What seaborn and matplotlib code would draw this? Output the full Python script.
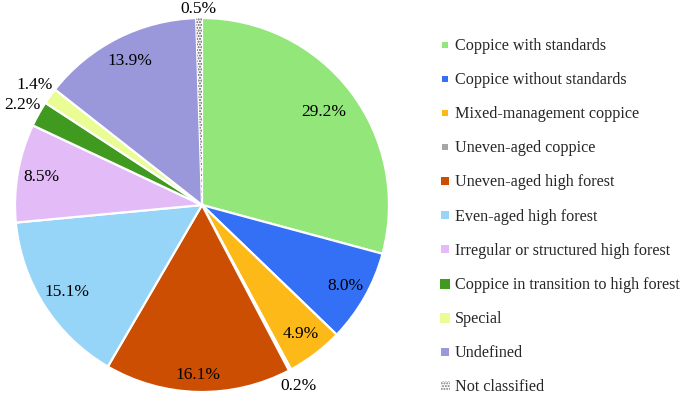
import matplotlib
matplotlib.use("Agg")
import matplotlib.pyplot as plt
from matplotlib.lines import Line2D
from matplotlib.patches import Patch
import seaborn as sns
import numpy as np

categorias = [
    "Coppice with standards",
    "Coppice without standards",
    "Mixed-management coppice",
    "Uneven-aged coppice",
    "Uneven-aged high forest",
    "Even-aged high forest",
    "Irregular or structured high forest",
    "Coppice in transition to high forest",
    "Special",
    "Undefined",
    "Not classified",
]
percentuais = [29.2, 8.0, 4.9, 0.2, 16.1, 15.1, 8.5, 2.2, 1.4, 13.9, 0.5]

cores = ["#92E67A", "#3370F5", "#FDB918", "#A6A6A6", "#CB4E02", "#96D5F8",
         "#E2BBF7", "#3F9A1F", "#EAFC94", "#9A97DA", "#FFFFFF"]

# distância radial de cada rótulo (fração do raio)
dist_rotulos = [0.82, 0.88, 0.87, 1.1, 0.91, 0.86, 0.87, 1.1, 1.1, 0.86, 1.05]
# tamanho dos marcadores da legenda
tam_marcadores = [5, 5, 5, 5, 8, 7, 7, 9, 9, 8, 6]

sns.set_theme(style="white")
plt.rcParams["font.family"] = ["Liberation Serif", "DejaVu Serif"]
plt.rcParams["hatch.linewidth"] = 1.0

fig = plt.figure(figsize=(6.85, 3.96), dpi=100)
ax = fig.add_axes([15 / 685, 4 / 396, 374 / 685, 374 / 396])

wedges, _ = ax.pie(percentuais, colors=cores, startangle=90, counterclock=False,
                   wedgeprops={"edgecolor": "white", "linewidth": 1.6})

# Fatia "Not classified" com hachura pontilhada
wedges[-1].set_hatch("......")
wedges[-1].set_edgecolor("#555555")
wedges[-1].set_linewidth(0)

# Rótulos percentuais
for w, v, d in zip(wedges, percentuais, dist_rotulos):
    ang = np.deg2rad((w.theta1 + w.theta2) / 2)
    ax.text(d * np.cos(ang), d * np.sin(ang), f"{v:.1f}%", ha="center", va="center",
            fontsize=12.5, color="black")

ax.set_xlim(-1, 1)
ax.set_ylim(-1, 1)
ax.set_aspect("equal")
ax.axis("off")

# Legenda
handles = []
for cor, tam in zip(cores[:-1], tam_marcadores[:-1]):
    handles.append(Line2D([0], [0], marker="s", linestyle="none", markersize=tam * 0.8,
                          markerfacecolor=cor, markeredgewidth=0))
handles.append(Patch(facecolor="white", edgecolor="#777777", hatch="......", linewidth=0))

fig.legend(handles, categorias, loc="upper left", bbox_to_anchor=(441 / 685, 1 - 38 / 396),
           frameon=False, fontsize=11.6, handlelength=0.55, handleheight=0.55,
           handletextpad=0.3, labelspacing=1.125, borderpad=0, borderaxespad=0)

fig.savefig("out.png", dpi=100)
